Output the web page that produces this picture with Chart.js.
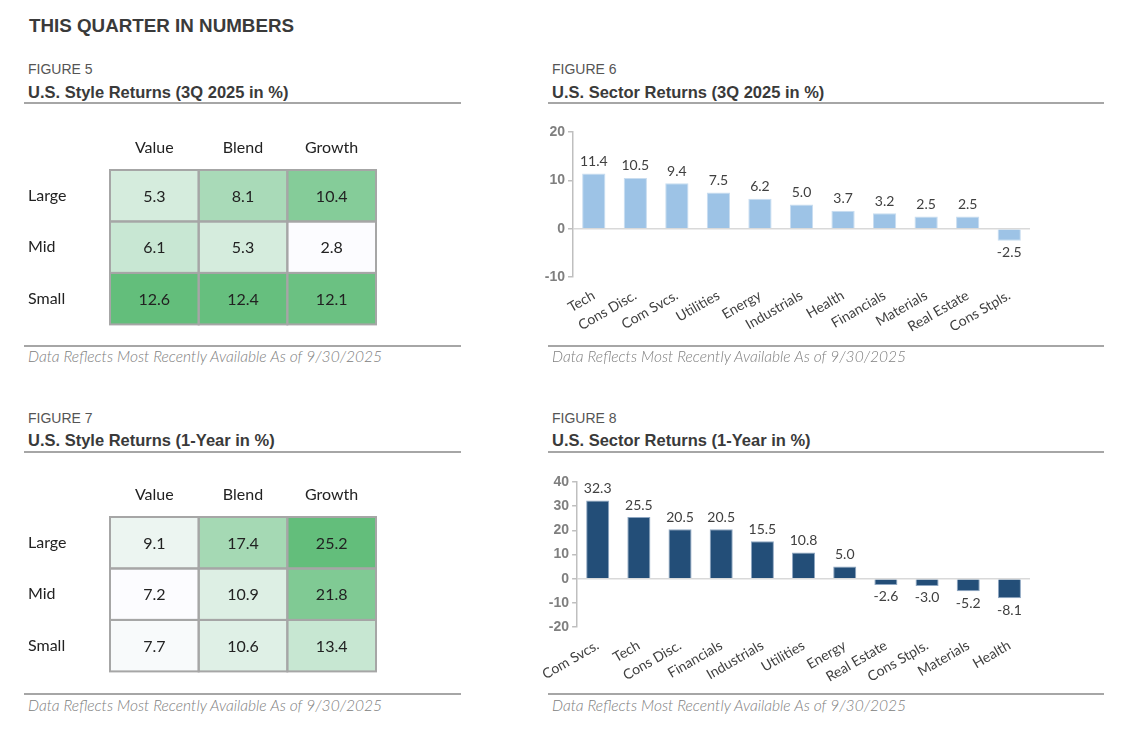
<!DOCTYPE html>
<html>
<head>
<meta charset="utf-8">
<script src="https://cdn.jsdelivr.net/npm/chart.js@4.4.1/dist/chart.umd.min.js"></script>
<style>
  body { margin: 0; background: #fff; width: 1128px; height: 737px; position: relative; overflow: hidden; }
  .abs { position: absolute; }
  .head { font-family: "Liberation Sans", Arial, sans-serif; font-weight: bold; font-size: 18.8px; color: #3a3a3a; }
  .fig { font-family: "Liberation Sans", Arial, sans-serif; font-size: 14px; color: #555; }
  .ttl { font-family: "Liberation Sans", Arial, sans-serif; font-weight: bold; font-size: 16.5px; color: #3a3a3a; }
  .rule { height: 2px; background: #a6a6a6; }
  .note { font-family: Lato, sans-serif; font-style: italic; font-weight: 300; font-size: 15.6px; color: #808080; }
</style>
</head>
<body>
<div class="abs head" style="left:29px;top:15px;">THIS QUARTER IN NUMBERS</div>

<div class="abs fig" style="left:28px;top:61px;">FIGURE 5</div>
<div class="abs ttl" style="left:28px;top:83px;">U.S. Style Returns (3Q 2025 in %)</div>
<div class="abs rule" style="left:24px;top:102px;width:437px;"></div>
<div class="abs" style="left:28px;top:130px;width:350px;height:204px;"><canvas id="fig5"></canvas></div>
<div class="abs rule" style="left:24px;top:345px;width:437px;"></div>
<div class="abs note" style="left:28px;top:347px;">Data Reflects Most Recently Available As of 9/30/2025</div>

<div class="abs fig" style="left:552px;top:61px;">FIGURE 6</div>
<div class="abs ttl" style="left:552px;top:83px;">U.S. Sector Returns (3Q 2025 in %)</div>
<div class="abs rule" style="left:548px;top:102px;width:556px;"></div>
<div class="abs" style="left:540px;top:115px;width:564px;height:232px;"><canvas id="fig6"></canvas></div>
<div class="abs rule" style="left:548px;top:345px;width:556px;"></div>
<div class="abs note" style="left:552px;top:347px;">Data Reflects Most Recently Available As of 9/30/2025</div>

<div class="abs fig" style="left:28px;top:410px;">FIGURE 7</div>
<div class="abs ttl" style="left:28px;top:431px;">U.S. Style Returns (1-Year in %)</div>
<div class="abs rule" style="left:24px;top:451px;width:437px;"></div>
<div class="abs" style="left:28px;top:477px;width:350px;height:204px;"><canvas id="fig7"></canvas></div>
<div class="abs rule" style="left:24px;top:693px;width:437px;"></div>
<div class="abs note" style="left:28px;top:696px;">Data Reflects Most Recently Available As of 9/30/2025</div>

<div class="abs fig" style="left:552px;top:410px;">FIGURE 8</div>
<div class="abs ttl" style="left:552px;top:431px;">U.S. Sector Returns (1-Year in %)</div>
<div class="abs rule" style="left:548px;top:451px;width:556px;"></div>
<div class="abs" style="left:540px;top:465px;width:564px;height:228px;"><canvas id="fig8"></canvas></div>
<div class="abs rule" style="left:548px;top:693px;width:556px;"></div>
<div class="abs note" style="left:552px;top:696px;">Data Reflects Most Recently Available As of 9/30/2025</div>

<script>
// style grids (rows = size, cols = style)
var styleCols = ['Value', 'Blend', 'Growth'];
var styleRows = ['Large', 'Mid', 'Small'];
var q3Large = [5.3, 8.1, 10.4];
var q3Mid = [6.1, 5.3, 2.8];
var q3Small = [12.6, 12.4, 12.1];
var yrLarge = [9.1, 17.4, 25.2];
var yrMid = [7.2, 10.9, 21.8];
var yrSmall = [7.7, 10.6, 13.4];

// sector bars
var q3Sectors = ['Tech', 'Cons Disc.', 'Com Svcs.', 'Utilities', 'Energy', 'Industrials', 'Health', 'Financials', 'Materials', 'Real Estate', 'Cons Stpls.'];
var q3Returns = [11.4, 10.5, 9.4, 7.5, 6.2, 5.0, 3.7, 3.2, 2.5, 2.5, -2.5];
var yrSectors = ['Com Svcs.', 'Tech', 'Cons Disc.', 'Financials', 'Industrials', 'Utilities', 'Energy', 'Real Estate', 'Cons Stpls.', 'Materials', 'Health'];
var yrReturns = [32.3, 25.5, 20.5, 20.5, 15.5, 10.8, 5.0, -2.6, -3.0, -5.2, -8.1];

var font = 'Lato, sans-serif';

// excel style 2-colour scale, white -> green
function heat(v, min, max) {
    var t = (v - min) / (max - min);
    var lo = [252, 252, 255], hi = [99, 190, 123];
    var c = lo.map((a, i) => Math.round(a + (hi[i] - a) * t));
    return 'rgb(' + c.join(',') + ')';
}

var cellPlugin = {
    id: 'cells',
    afterDatasetsDraw(chart) {
        var ctx = chart.ctx;
        ctx.save();
        chart.data.datasets.forEach((ds, di) => {
            chart.getDatasetMeta(di).data.forEach((el, i) => {
                var left = Math.min(el.base, el.x), w = Math.abs(el.x - el.base);
                var top = el.y - el.height / 2;
                ctx.strokeStyle = '#a6a6a6';
                ctx.lineWidth = 2;
                ctx.strokeRect(left, top, w, el.height);
                ctx.fillStyle = '#222';
                ctx.font = '16px ' + font;
                ctx.textAlign = 'center';
                ctx.textBaseline = 'middle';
                ctx.fillText(ds.values[i].toFixed(1), left + w / 2, el.y + 1);
            });
        });
        ctx.restore();
    }
};

function makeGrid(id, rows) {
    var all = rows.flat();
    var min = Math.min.apply(null, all), max = Math.max.apply(null, all);
    var datasets = styleCols.map((col, c) => {
        var vals = rows.map(r => r[c]);
        return {
            label: col,
            data: vals.map(() => 1),
            values: vals,
            backgroundColor: vals.map(v => heat(v, min, max)),
            borderWidth: 0,
            barPercentage: 1,
            categoryPercentage: 1
        };
    });
    new Chart(document.getElementById(id), {
        type: 'bar',
        data: { labels: styleRows, datasets: datasets },
        options: {
            indexAxis: 'y',
            responsive: true,
            maintainAspectRatio: false,
            animation: false,
            layout: { padding: { right: 2, bottom: 2 } },
            plugins: { legend: { display: false }, tooltip: { enabled: false } },
            scales: {
                x: { stacked: true, min: 0, max: 3, display: false },
                xTop: {
                    type: 'category', labels: styleCols, position: 'top', offset: true,
                    grid: { display: false, drawTicks: false }, border: { display: false },
                    ticks: { color: '#222', font: { family: font, size: 16 }, padding: 13 },
                    afterFit: s => { s.height = 40; }
                },
                y: {
                    stacked: true,
                    grid: { display: false, drawTicks: false }, border: { display: false },
                    ticks: { color: '#222', font: { family: font, size: 16 }, crossAlign: 'far', padding: 0 },
                    afterFit: s => { s.width = 82; }
                }
            }
        },
        plugins: [cellPlugin]
    });
}

var labelPlugin = {
    id: 'barLabels',
    afterDatasetsDraw(chart) {
        var ctx = chart.ctx;
        ctx.save();
        ctx.fillStyle = '#404040';
        ctx.font = '14px ' + font;
        ctx.textAlign = 'center';
        var ds = chart.data.datasets[0];
        chart.getDatasetMeta(0).data.forEach((el, i) => {
            var v = ds.data[i];
            if (v >= 0) {
                ctx.textBaseline = 'bottom';
                ctx.fillText(v.toFixed(1), el.x, el.y - 5);
            } else {
                ctx.textBaseline = 'top';
                ctx.fillText(v.toFixed(1), el.x, el.y + 5);
            }
        });
        ctx.restore();
    }
};

function makeBars(id, labels, values, min, max, color, edge, xh) {
    new Chart(document.getElementById(id), {
        type: 'bar',
        data: {
            labels: labels,
            datasets: [{
                data: values,
                backgroundColor: color,
                borderColor: edge,
                borderWidth: 1,
                barPercentage: 0.56,
                categoryPercentage: 1
            }]
        },
        options: {
            responsive: true,
            maintainAspectRatio: false,
            animation: false,
            layout: { padding: { top: 17, right: 74 } },
            plugins: { legend: { display: false }, tooltip: { enabled: false } },
            scales: {
                x: {
                    grid: { display: false }, border: { display: false },
                    ticks: { color: '#404040', font: { family: font, size: 14 }, minRotation: 30, maxRotation: 30, padding: 2 },
                    afterFit: s => { s.height = xh; }
                },
                y: {
                    min: min, max: max,
                    ticks: { stepSize: 10, color: '#7f7f7f', font: { family: '"Liberation Sans", Arial, sans-serif', size: 14, weight: 'bold' }, padding: 3 },
                    grid: {
                        color: c => c.tick && c.tick.value === 0 ? '#d9d9d9' : 'rgba(0,0,0,0)',
                        tickColor: '#bfbfbf', tickLength: 5, lineWidth: 1.5
                    },
                    border: { color: '#bfbfbf', width: 1.5 },
                    afterFit: s => { s.width = 33; }
                }
            }
        },
        plugins: [labelPlugin]
    });
}

makeGrid('fig5', [q3Large, q3Mid, q3Small]);
makeGrid('fig7', [yrLarge, yrMid, yrSmall]);
makeBars('fig6', q3Sectors, q3Returns, -10, 20, '#9dc3e6', '#c9ddf0', 70);
makeBars('fig8', yrSectors, yrReturns, -20, 40, '#234e78', '#8fa7c2', 66);
</script>
</body>
</html>
